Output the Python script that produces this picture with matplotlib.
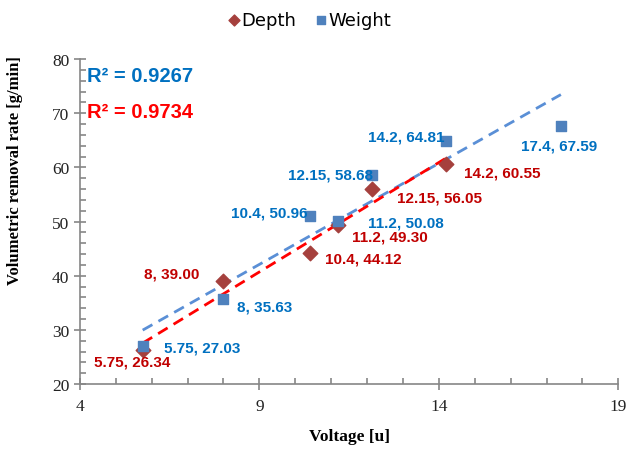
import numpy as np
import matplotlib.pyplot as plt
from matplotlib.ticker import MultipleLocator

# Volumetric removal rate vs voltage
depth_v = [5.75, 8, 10.4, 11.2, 12.15, 14.2]
depth_r = [26.34, 39.00, 44.12, 49.30, 56.05, 60.55]
weight_v = [5.75, 8, 10.4, 11.2, 12.15, 14.2, 17.4]
weight_r = [27.03, 35.63, 50.96, 50.08, 58.68, 64.81, 67.59]
r2_depth = "0.9734"
r2_weight = "0.9267"
x_ticks = [4, 9, 14, 19]

# label offsets in pixels (dx, dy)
depth_off = [(-11, -12), (-52, 8), (54, -5), (52, -11), (67, -9), (56, -8)]
weight_off = [(59, -1), (41, -7), (-40, 4), (68, -1), (-42, 0), (-40, 5), (-2, -19)]

c_depth = '#A5403D'
c_depth_txt = '#C00000'
c_weight = '#4F81BD'
c_weight_txt = '#0070C0'
axis_gray = '#868686'

fig = plt.figure(figsize=(6.29, 4.52), dpi=100)
ax = fig.add_axes([0.127, 0.148, 0.856, 0.719])

# trendlines
for xs, ys, col in [(weight_v, weight_r, '#5A8FD6'), (depth_v, depth_r, '#FF0000')]:
    k, b = np.polyfit(xs, ys, 1)
    xx = np.array([min(xs), max(xs)])
    ax.plot(xx, k * xx + b, color=col, lw=2, ls=(0, (4, 2.5)), zorder=2)

ax.scatter(depth_v, depth_r, marker='D', s=55, color=c_depth, zorder=3, label='Depth')
ax.scatter(weight_v, weight_r, marker='s', s=60, color=c_weight, zorder=3, label='Weight')

lab_font = dict(family='Liberation Sans', weight='bold', size=11)
for x, y, (dx, dy) in zip(depth_v, depth_r, depth_off):
    ax.annotate(f"{x:g}, {y:.2f}", (x, y), xytext=(dx, dy), textcoords='offset pixels',
                ha='center', va='center', color=c_depth_txt, zorder=4, **lab_font)
for x, y, (dx, dy) in zip(weight_v, weight_r, weight_off):
    ax.annotate(f"{x:g}, {y:.2f}", (x, y), xytext=(dx, dy), textcoords='offset pixels',
                ha='center', va='center', color=c_weight_txt, zorder=4, **lab_font)

ax.text(0.013, 0.951, f"R² = {r2_weight}", transform=ax.transAxes, color=c_weight_txt,
        family='Liberation Sans', weight='bold', size=14.5, va='center')
ax.text(0.013, 0.840, f"R² = {r2_depth}", transform=ax.transAxes, color='#FF0000',
        family='Liberation Sans', weight='bold', size=14.5, va='center')

ax.set_xlim(4, 19)
ax.set_ylim(20, 80)
ax.set_xticks(x_ticks)
ax.xaxis.set_minor_locator(MultipleLocator(1))
ax.yaxis.set_major_locator(MultipleLocator(10))
ax.yaxis.set_minor_locator(MultipleLocator(2))

for s in ['top', 'right']:
    ax.spines[s].set_visible(False)
for s in ['left', 'bottom']:
    ax.spines[s].set_color(axis_gray)
    ax.spines[s].set_linewidth(1.2)
ax.tick_params(which='major', direction='inout', length=8, width=1.2, color=axis_gray,
               labelsize=12.5, labelcolor='#222222')
ax.tick_params(which='minor', direction='in', length=4, width=1.2, color=axis_gray)
for lbl in ax.get_xticklabels() + ax.get_yticklabels():
    lbl.set_family('Liberation Serif')
ax.tick_params(axis='x', pad=6)

ax.set_xlabel('Voltage [u]', family='Liberation Serif', weight='bold', size=12.5, labelpad=10)
ax.set_ylabel('Volumetric removal rate [g/min]', family='Liberation Serif', weight='bold', size=12,
              labelpad=14)
ax.yaxis.set_label_coords(-0.105, 0.66)

fig.legend(loc='upper center', bbox_to_anchor=(0.49, 1.01), ncol=2, frameon=False,
           prop={'family': 'DejaVu Sans', 'size': 13}, handletextpad=-0.1, handlelength=1.0,
           columnspacing=0.9, markerscale=0.75)

fig.savefig('out.png', dpi=100)
